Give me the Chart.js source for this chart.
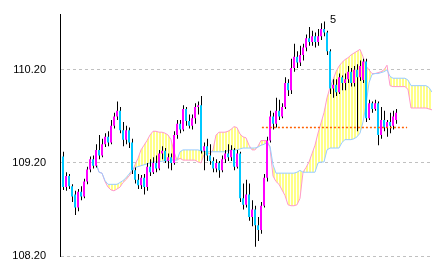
<!DOCTYPE html>
<html>
<head>
<meta charset="utf-8">
<script src="https://cdn.jsdelivr.net/npm/chart.js@4.4.0/dist/chart.umd.min.js"></script>
<style>
  body { margin: 0; background: #fff; }
  canvas { display: block; }
</style>
</head>
<body>
<canvas id="ichimoku-chart" width="433" height="270"></canvas>
<script>
  // price axis
  const tickValues = [108.20, 109.20, 110.20];
  const yMin = 108.20;
  const yMax = 110.80;
  const slotCount = 124; // candles + forward cloud

  // candles, one per slot from the left edge
  const opens = [
    109.27, 108.94, 109.06, 108.95, 108.86, 108.72, 108.89, 108.84, 109.00, 109.13,
    109.24, 109.17, 109.34, 109.28, 109.40, 109.48, 109.42, 109.60, 109.70, 109.76,
    109.55, 109.45, 109.55, 109.42, 109.12, 109.02, 108.96, 109.04, 108.94, 109.16,
    109.10, 109.20, 109.14, 109.30, 109.33, 109.22, 109.26, 109.20, 109.50, 109.62,
    109.56, 109.78, 109.65, 109.60, 109.68, 109.80, 109.82, 109.33, 109.38, 109.28,
    109.22, 109.14, 109.20, 109.12, 109.24, 109.30, 109.26, 109.34, 109.16, 109.30,
    108.82, 108.75, 108.86, 108.62, 108.70, 108.53, 108.48, 108.74, 109.04, 109.44,
    109.70, 109.62, 109.76, 109.70, 109.80, 110.06, 109.98, 110.22, 110.34, 110.28,
    110.36, 110.44, 110.54, 110.50, 110.56, 110.50, 110.56, 110.64, 110.60, 110.40,
    110.00, 110.04, 109.96, 110.12, 110.06, 110.10, 110.18, 110.06, 110.20, 110.12,
    110.09, 110.29, 109.68, 109.84, 109.78, 109.84, 109.50, 109.66, 109.58, 109.64,
    109.60, 109.66
  ];
  const highs = [
    109.32, 109.10, 109.08, 108.97, 108.90, 108.92, 108.95, 109.03, 109.16, 109.27,
    109.28, 109.40, 109.50, 109.46, 109.52, 109.54, 109.66, 109.74, 109.86, 109.80,
    109.64, 109.60, 109.58, 109.46, 109.15, 109.08, 109.07, 109.08, 109.20, 109.24,
    109.26, 109.28, 109.34, 109.38, 109.36, 109.30, 109.30, 109.54, 109.66, 109.66,
    109.82, 109.80, 109.72, 109.72, 109.84, 109.86, 109.92, 109.42, 109.46, 109.40,
    109.26, 109.24, 109.22, 109.28, 109.34, 109.40, 109.39, 109.36, 109.34, 109.32,
    108.98, 109.02, 108.98, 108.80, 108.74, 108.62, 108.78, 109.08, 109.48, 109.76,
    109.74, 109.90, 109.88, 109.84, 110.12, 110.10, 110.32, 110.48, 110.40, 110.46,
    110.48, 110.58, 110.66, 110.62, 110.60, 110.64, 110.70, 110.72, 110.62, 110.42,
    110.10, 110.10, 110.16, 110.14, 110.16, 110.24, 110.22, 110.24, 110.26, 110.30,
    110.32, 110.32, 109.88, 109.86, 109.88, 109.86, 109.80, 109.76, 109.66, 109.74,
    109.76, 109.78
  ];
  const lows = [
    108.91, 108.90, 108.92, 108.78, 108.64, 108.68, 108.80, 108.82, 108.97, 109.10,
    109.14, 109.15, 109.24, 109.26, 109.37, 109.38, 109.40, 109.57, 109.66, 109.52,
    109.38, 109.40, 109.36, 109.08, 108.98, 108.92, 108.92, 108.86, 108.90, 109.06,
    109.08, 109.10, 109.12, 109.24, 109.20, 109.14, 109.12, 109.18, 109.46, 109.52,
    109.54, 109.60, 109.57, 109.56, 109.62, 109.72, 109.30, 109.12, 109.22, 109.18,
    109.10, 109.10, 109.04, 109.10, 109.20, 109.22, 109.22, 109.12, 109.14, 108.78,
    108.70, 108.72, 108.58, 108.52, 108.30, 108.36, 108.44, 108.72, 109.00, 109.42,
    109.56, 109.58, 109.66, 109.68, 109.78, 109.92, 109.94, 110.18, 110.22, 110.24,
    110.30, 110.40, 110.46, 110.46, 110.44, 110.46, 110.52, 110.56, 110.36, 109.94,
    109.90, 109.92, 109.94, 109.98, 109.98, 110.06, 110.02, 110.02, 109.54, 110.08,
    110.06, 109.64, 109.66, 109.74, 109.76, 109.39, 109.46, 109.54, 109.48, 109.52,
    109.56, 109.62
  ];
  const closes = [
    108.94, 109.06, 108.95, 108.84, 108.72, 108.89, 108.84, 109.00, 109.13, 109.24,
    109.17, 109.34, 109.28, 109.40, 109.48, 109.42, 109.60, 109.70, 109.76, 109.55,
    109.45, 109.55, 109.42, 109.12, 109.02, 108.96, 109.04, 108.94, 109.16, 109.10,
    109.20, 109.14, 109.30, 109.33, 109.22, 109.26, 109.20, 109.50, 109.62, 109.56,
    109.78, 109.65, 109.60, 109.68, 109.80, 109.82, 109.33, 109.38, 109.28, 109.22,
    109.14, 109.20, 109.12, 109.24, 109.30, 109.26, 109.34, 109.16, 109.30, 108.82,
    108.75, 108.86, 108.62, 108.70, 108.53, 108.48, 108.74, 109.04, 109.44, 109.70,
    109.62, 109.76, 109.70, 109.80, 110.06, 109.98, 110.22, 110.34, 110.28, 110.36,
    110.44, 110.54, 110.50, 110.56, 110.50, 110.56, 110.64, 110.60, 110.40, 110.00,
    110.04, 109.96, 110.12, 110.06, 110.10, 110.18, 110.06, 110.20, 110.12, 110.24,
    110.29, 109.68, 109.84, 109.78, 109.84, 109.50, 109.66, 109.58, 109.64, 109.60,
    109.70, 109.74
  ];

  // ichimoku cloud, from slot cloudStart to the right edge
  const cloudStart = 11;
  const spanA = [
    109.20, 109.10, 109.09, 109.01, 108.97, 108.97, 108.97, 108.97, 108.99, 109.01,
    109.04, 109.08, 109.12, 109.15, 109.16, 109.17, 109.18, 109.19, 109.20, 109.21,
    109.21, 109.21, 109.22, 109.22, 109.22, 109.23, 109.23, 109.23, 109.32, 109.34,
    109.34, 109.34, 109.34, 109.34, 109.34, 109.33, 109.32, 109.32, 109.32, 109.32,
    109.32, 109.32, 109.32, 109.32, 109.33, 109.34, 109.34, 109.34, 109.35, 109.36,
    109.36, 109.36, 109.36, 109.36, 109.37, 109.39, 109.40, 109.42, 109.38, 109.18,
    109.09, 109.09, 109.09, 109.09, 109.09, 109.09, 109.09, 109.10, 109.12, 109.10,
    109.10, 109.10, 109.10, 109.10, 109.20, 109.21, 109.21, 109.34, 109.36, 109.36,
    109.36, 109.36, 109.42, 109.45, 109.45, 109.45, 109.46, 109.48, 109.52, 109.64,
    109.82, 110.06, 110.15, 110.16, 110.16, 110.17, 110.18, 110.20, 110.13, 110.11,
    110.11, 110.11, 110.11, 110.11, 110.09, 110.03, 110.03, 110.03, 110.03, 110.03,
    110.03, 110.01, 109.96
  ];
  const spanB = [
    109.20, 109.10, 109.09, 109.00, 108.94, 108.91, 108.90, 108.92, 108.94, 108.99,
    109.02, 109.06, 109.10, 109.18, 109.25, 109.34, 109.39, 109.44, 109.50, 109.54,
    109.54, 109.53, 109.53, 109.52, 109.50, 109.45, 109.32, 109.23, 109.25, 109.23,
    109.23, 109.23, 109.23, 109.23, 109.21, 109.20, 109.29, 109.30, 109.30, 109.34,
    109.50, 109.53, 109.53, 109.53, 109.54, 109.56, 109.59, 109.58, 109.51, 109.48,
    109.47, 109.39, 109.34, 109.34, 109.38, 109.44, 109.44, 109.44, 109.36, 109.06,
    109.00, 108.97, 108.91, 108.85, 108.75, 108.74, 108.74, 108.75, 108.82, 109.10,
    109.15, 109.21, 109.30, 109.39, 109.52, 109.63, 109.74, 109.90, 110.01, 110.09,
    110.18, 110.24, 110.28, 110.31, 110.33, 110.36, 110.38, 110.40, 110.42, 110.34,
    110.24, 110.20, 110.16, 110.16, 110.17, 110.18, 110.20, 110.25, 110.03, 110.02,
    110.02, 110.02, 110.02, 110.02, 109.99, 109.79, 109.79, 109.79, 109.79, 109.79,
    109.79, 109.78, 109.77
  ];

  // dotted position line and day marker
  const entryLevel = 109.58;
  const entryFrom = 66.3;
  const entryTo = 114.7;
  const dayMarks = [{ label: '5', index: 90 }];

  const upColor = '#ff00ff';
  const downColor = '#00c8ff';
  const labelFont = '"Liberation Sans", Arial, sans-serif';

  // striped yellow fill for the cloud
  const stripe = document.createElement('canvas');
  stripe.width = 3;
  stripe.height = 1;
  const sctx = stripe.getContext('2d');
  sctx.fillStyle = '#ffffff';
  sctx.fillRect(0, 0, 3, 1);
  sctx.fillStyle = '#ffff88';
  sctx.fillRect(0, 0, 2, 1);

  const ctx = document.getElementById('ichimoku-chart');
  const cloudFill = ctx.getContext('2d').createPattern(stripe, 'repeat');

  const dayMarkPlugin = {
    id: 'dayMarks',
    afterDatasetsDraw(chart) {
      const { ctx, chartArea, scales: { x } } = chart;
      ctx.save();
      ctx.font = '11px ' + labelFont;
      ctx.fillStyle = '#000';
      ctx.textAlign = 'center';
      ctx.textBaseline = 'alphabetic';
      dayMarks.forEach(m => {
        ctx.fillText(m.label, x.getPixelForValue(m.index), chartArea.top + 9);
      });
      ctx.restore();
    }
  };

  new Chart(ctx, {
    type: 'bar',
    data: {
      datasets: [{
        type: 'line',
        label: 'Span A',
        data: spanA.map((v, k) => ({ x: cloudStart + k, y: v })),
        borderColor: '#99ccff',
        borderWidth: 1,
        pointRadius: 0,
        fill: false,
        order: 4
      }, {
        type: 'line',
        label: 'Span B',
        data: spanB.map((v, k) => ({ x: cloudStart + k, y: v })),
        borderColor: '#ff99cc',
        borderWidth: 1,
        pointRadius: 0,
        fill: '-1',
        backgroundColor: cloudFill,
        order: 4
      }, {
        label: 'Wick',
        xAxisID: 'xw',
        data: lows.map((l, i) => ({ x: i, y: [l, highs[i]] })),
        backgroundColor: '#000',
        barThickness: 1,
        grouped: false,
        inflateAmount: 0,
        order: 3
      }, {
        label: 'Body',
        data: opens.map((o, i) => ({ x: i, y: [o, closes[i]] })),
        backgroundColor: opens.map((o, i) => closes[i] >= o ? upColor : downColor),
        barThickness: 2,
        grouped: false,
        minBarLength: 1,
        inflateAmount: 0,
        order: 2
      }, {
        type: 'line',
        label: 'Entry',
        data: [{ x: entryFrom, y: entryLevel }, { x: entryTo, y: entryLevel }],
        borderColor: '#ff6000',
        borderWidth: 1.5,
        borderDash: [2, 2],
        pointRadius: 0,
        fill: false,
        order: 1
      }]
    },
    options: {
      responsive: false,
      animation: false,
      layout: { padding: { top: 14, bottom: 14, left: 0, right: 1 } },
      plugins: {
        legend: { display: false },
        tooltip: { enabled: false }
      },
      scales: {
        x: {
          type: 'linear',
          display: false,
          offset: false,
          min: -1,
          max: slotCount - 1,
          grid: { display: false }
        },
        // same slots, half a pixel to the right, so 1px wicks land on whole pixels
        xw: {
          type: 'linear',
          axis: 'x',
          display: false,
          offset: false,
          min: -1 - 1 / 6,
          max: slotCount - 1 - 1 / 6,
          grid: { display: false }
        },
        y: {
          min: yMin,
          max: yMax,
          afterBuildTicks: s => { s.ticks = tickValues.map(v => ({ value: v })); },
          afterFit: s => {
            s.width = 60;
            s.paddingTop = 0;
            s.paddingBottom = 0;
          },
          ticks: {
            padding: 14,
            color: '#000',
            font: { family: labelFont, size: 11 },
            callback: v => v.toFixed(2)
          },
          grid: { color: '#c0c0c0', drawTicks: false },
          border: { display: true, color: '#000', width: 1, dash: [3, 3] }
        }
      }
    },
    plugins: [dayMarkPlugin]
  });
</script>
</body>
</html>
